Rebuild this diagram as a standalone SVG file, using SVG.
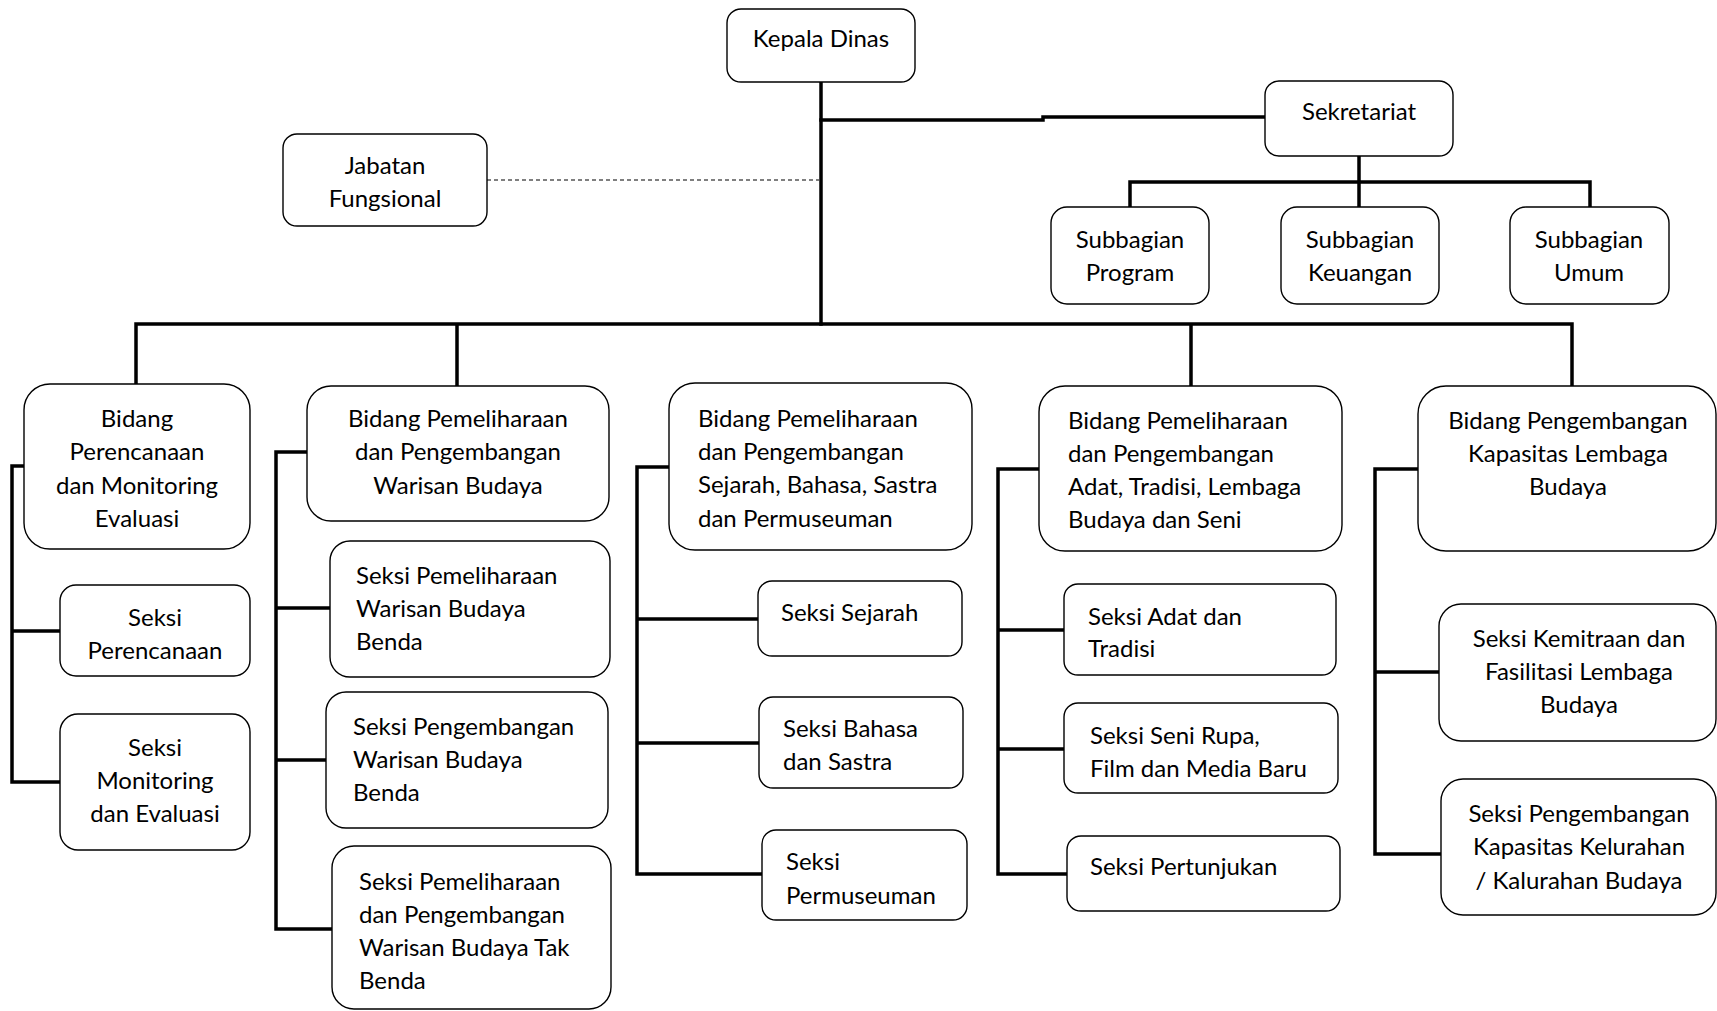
<svg xmlns="http://www.w3.org/2000/svg" width="1717" height="1011" viewBox="0 0 1717 1011">
<style>
.box{fill:#fff;stroke:#000;stroke-width:1.4}
.ln{fill:none;stroke:#000;stroke-width:3.5;stroke-linejoin:miter;stroke-linecap:square}
.dash{fill:none;stroke:#000;stroke-width:1.2;stroke-dasharray:4 3}
text{font-family:Lato,"Open Sans","Liberation Sans",sans-serif;font-size:24px;fill:#000}
.c{text-anchor:middle}
</style>
<rect width="1717" height="1011" fill="#fff"/>
<g id="connectors">
<path class="ln" d="M821,82 V324"/>
<path class="ln" d="M821,120 H1043 V117 H1265"/>
<path class="dash" d="M487,180 H819"/>
<path class="ln" d="M1359,156 V207 M1130,182 H1590 M1130,182 V207 M1590,182 V207"/>
<path class="ln" d="M136,324 H1572 M136,324 V383 M457,324 V386 M1191,324 V386 M1572,324 V386"/>
<path class="ln" d="M24,466 H12 V782 H60 M12,631 H60"/>
<path class="ln" d="M307,452 H276 V929 H332 M276,608 H330 M276,760 H326"/>
<path class="ln" d="M669,467 H637 V874 H762 M637,619 H758 M637,743 H759"/>
<path class="ln" d="M1039,469 H998 V874 H1067 M998,630 H1063 M998,749 H1064"/>
<path class="ln" d="M1418,469 H1375 V854 H1441 M1375,672 H1439"/>
</g>
<g id="kepala-dinas"><rect class="box" x="727" y="9" width="188" height="73" rx="14"/><text class="c" x="821" y="47">Kepala Dinas</text></g>
<g id="sekretariat"><rect class="box" x="1265" y="81" width="188" height="75" rx="14"/><text class="c" x="1359" y="120">Sekretariat</text></g>
<g id="jabatan-fungsional"><rect class="box" x="283" y="134" width="204" height="92" rx="14"/><text class="c" x="385" y="174">Jabatan</text><text class="c" x="385" y="207">Fungsional</text></g>
<g id="subbagian-program"><rect class="box" x="1051" y="207" width="158" height="97" rx="16"/><text class="c" x="1130" y="248">Subbagian</text><text class="c" x="1130" y="281">Program</text></g>
<g id="subbagian-keuangan"><rect class="box" x="1281" y="207" width="158" height="97" rx="16"/><text class="c" x="1360" y="248">Subbagian</text><text class="c" x="1360" y="281">Keuangan</text></g>
<g id="subbagian-umum"><rect class="box" x="1510" y="207" width="159" height="97" rx="16"/><text class="c" x="1589" y="248">Subbagian</text><text class="c" x="1589" y="281">Umum</text></g>
<g id="bidang-perencanaan"><rect class="box" x="24" y="384" width="226" height="165" rx="26"/><text class="c" x="137" y="427">Bidang</text><text class="c" x="137" y="460">Perencanaan</text><text class="c" x="137" y="494">dan Monitoring</text><text class="c" x="137" y="527">Evaluasi</text></g>
<g id="seksi-perencanaan"><rect class="box" x="60" y="585" width="190" height="91" rx="16"/><text class="c" x="155" y="626">Seksi</text><text class="c" x="155" y="659">Perencanaan</text></g>
<g id="seksi-monitoring"><rect class="box" x="60" y="714" width="190" height="136" rx="18"/><text class="c" x="155" y="756">Seksi</text><text class="c" x="155" y="789">Monitoring</text><text class="c" x="155" y="822">dan Evaluasi</text></g>
<g id="bidang-warisan-budaya"><rect class="box" x="307" y="386" width="302" height="135" rx="24"/><text class="c" x="458" y="427">Bidang Pemeliharaan</text><text class="c" x="458" y="460">dan Pengembangan</text><text class="c" x="458" y="494">Warisan Budaya</text></g>
<g id="seksi-pemeliharaan-wbb"><rect class="box" x="330" y="541" width="280" height="136" rx="20"/><text x="356" y="584">Seksi Pemeliharaan</text><text x="356" y="617">Warisan Budaya</text><text x="356" y="650">Benda</text></g>
<g id="seksi-pengembangan-wbb"><rect class="box" x="326" y="692" width="282" height="136" rx="20"/><text x="353" y="735">Seksi Pengembangan</text><text x="353" y="768">Warisan Budaya</text><text x="353" y="801">Benda</text></g>
<g id="seksi-wbtb"><rect class="box" x="332" y="846" width="279" height="163" rx="22"/><text x="359" y="890">Seksi Pemeliharaan</text><text x="359" y="923">dan Pengembangan</text><text x="359" y="956">Warisan Budaya Tak</text><text x="359" y="989">Benda</text></g>
<g id="bidang-sejarah"><rect class="box" x="669" y="383" width="303" height="167" rx="26"/><text x="698" y="427">Bidang Pemeliharaan</text><text x="698" y="460">dan Pengembangan</text><text x="698" y="493">Sejarah, Bahasa, Sastra</text><text x="698" y="527">dan Permuseuman</text></g>
<g id="seksi-sejarah"><rect class="box" x="758" y="581" width="204" height="75" rx="14"/><text x="781" y="621">Seksi Sejarah</text></g>
<g id="seksi-bahasa"><rect class="box" x="759" y="697" width="204" height="91" rx="14"/><text x="783" y="737">Seksi Bahasa</text><text x="783" y="770">dan Sastra</text></g>
<g id="seksi-permuseuman"><rect class="box" x="762" y="830" width="205" height="90" rx="14"/><text x="786" y="870">Seksi</text><text x="786" y="904">Permuseuman</text></g>
<g id="bidang-adat"><rect class="box" x="1039" y="386" width="303" height="165" rx="26"/><text x="1068" y="429">Bidang Pemeliharaan</text><text x="1068" y="462">dan Pengembangan</text><text x="1068" y="495">Adat, Tradisi, Lembaga</text><text x="1068" y="528">Budaya dan Seni</text></g>
<g id="seksi-adat"><rect class="box" x="1064" y="584" width="272" height="91" rx="14"/><text x="1088" y="625">Seksi Adat dan</text><text x="1088" y="657">Tradisi</text></g>
<g id="seksi-seni-rupa"><rect class="box" x="1064" y="703" width="274" height="90" rx="14"/><text x="1090" y="744">Seksi Seni Rupa,</text><text x="1090" y="777">Film dan Media Baru</text></g>
<g id="seksi-pertunjukan"><rect class="box" x="1067" y="836" width="273" height="75" rx="14"/><text x="1090" y="875">Seksi Pertunjukan</text></g>
<g id="bidang-kapasitas"><rect class="box" x="1418" y="386" width="298" height="165" rx="28"/><text class="c" x="1568" y="429">Bidang Pengembangan</text><text class="c" x="1568" y="462">Kapasitas Lembaga</text><text class="c" x="1568" y="495">Budaya</text></g>
<g id="seksi-kemitraan"><rect class="box" x="1439" y="604" width="277" height="137" rx="22"/><text class="c" x="1579" y="647">Seksi Kemitraan dan</text><text class="c" x="1579" y="680">Fasilitasi Lembaga</text><text class="c" x="1579" y="713">Budaya</text></g>
<g id="seksi-kelurahan"><rect class="box" x="1441" y="779" width="275" height="136" rx="22"/><text class="c" x="1579" y="822">Seksi Pengembangan</text><text class="c" x="1579" y="855">Kapasitas Kelurahan</text><text class="c" x="1579" y="889">/ Kalurahan Budaya</text></g>
</svg>
